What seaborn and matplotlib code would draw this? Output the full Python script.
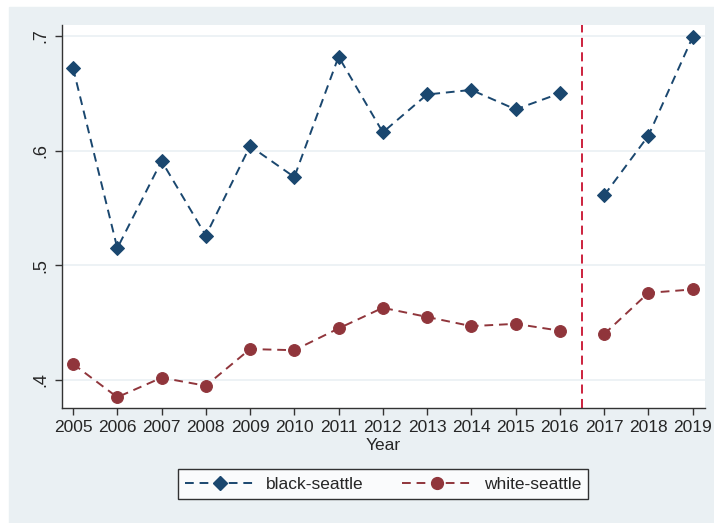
import numpy as np
import pandas as pd
import matplotlib
matplotlib.use("Agg")
import matplotlib.pyplot as plt
from matplotlib.lines import Line2D
import seaborn as sns

years = list(range(2005, 2020))
black_seattle = [0.672, 0.515, 0.591, 0.526, 0.604, 0.577, 0.682, 0.616,
                 0.649, 0.653, 0.636, 0.650, 0.561, 0.613, 0.699]
white_seattle = [0.414, 0.385, 0.402, 0.395, 0.427, 0.426, 0.445, 0.463,
                 0.455, 0.447, 0.449, 0.443, 0.440, 0.476, 0.479]
series_names = ["black-seattle", "white-seattle"]
y_ticks = [0.4, 0.5, 0.6, 0.7]
y_tick_labels = [".4", ".5", ".6", ".7"]
break_year = 2016.5

navy = "#1A476F"
maroon = "#90353B"
region_bg = "#EAF0F3"
fs = 12.5

sns.set_theme(style="white")
plt.rcParams["font.family"] = ["Liberation Sans", "DejaVu Sans"]

df = pd.DataFrame({
    "Year": years * 2,
    "value": black_seattle + white_seattle,
    "series": [series_names[0]] * len(years) + [series_names[1]] * len(years),
})
df["period"] = np.where(df["Year"] < break_year, "pre", "post")

fig = plt.figure(figsize=(7.14, 5.23), dpi=100)
fig.patch.set_facecolor("white")
# graph region background
fig.patches.append(plt.Rectangle((9 / 714, 0), 705 / 714, 516 / 523,
                                 transform=fig.transFigure, color=region_bg,
                                 zorder=-10))
ax = fig.add_axes([62 / 714, 1 - 408 / 523, (705 - 62) / 714, (408 - 25) / 523])
ax.set_facecolor("white")

dash = (0, (4.5, 3))
styles = {series_names[0]: dict(color=navy, marker="D", ms=7.5),
          series_names[1]: dict(color=maroon, marker="o", ms=8.5)}

for name in series_names:
    st = styles[name]
    for per in ["pre", "post"]:
        sub = df[(df["series"] == name) & (df["period"] == per)]
        sns.lineplot(data=sub, x="Year", y="value", ax=ax, color=st["color"],
                     marker=st["marker"], markersize=st["ms"],
                     markeredgecolor=st["color"], linestyle=dash,
                     linewidth=1.4, legend=False, zorder=3)

ax.axvline(break_year, color="#C8102E", linestyle=(0, (5, 3)), linewidth=1.3,
           zorder=2)

ax.set_xlim(2004.75, 2019.28)
ax.set_ylim(0.3756, 0.7096)
ax.set_xticks(years)
ax.set_xticklabels([str(y) for y in years], fontsize=fs)
ax.set_yticks(y_ticks)
ax.set_yticklabels(y_tick_labels, fontsize=fs + 0.5, rotation=90, va="center")
ax.grid(axis="y", color=region_bg, linewidth=1.2)
ax.grid(axis="x", visible=False)
for s in ["top", "right"]:
    ax.spines[s].set_visible(False)
for s in ["left", "bottom"]:
    ax.spines[s].set_color("#333333")
    ax.spines[s].set_linewidth(1.0)
ax.tick_params(axis="both", direction="out", length=5, width=1,
               color="#333333", left=True, bottom=True, pad=4)
ax.set_xlabel("Year", fontsize=fs, labelpad=2)
ax.set_ylabel("")

handles = [Line2D([], [], color=styles[n]["color"], marker=styles[n]["marker"],
                  markersize=styles[n]["ms"], linestyle=dash,
                  linewidth=1.4, markevery=[1]) for n in series_names]
for h in handles:
    h.set_data([0, 1, 2], [0, 0, 0])
leg = fig.legend(handles, series_names, loc="center",
                 bbox_to_anchor=(383 / 714, 1 - 484 / 523), ncol=2,
                 fontsize=fs, frameon=True, fancybox=False, handlelength=4.0,
                 columnspacing=2.2, borderpad=0.4, handletextpad=0.7)
leg.get_frame().set_edgecolor("black")
leg.get_frame().set_linewidth(1.0)
leg.get_frame().set_facecolor("white")

fig.savefig("out.png", dpi=100)
